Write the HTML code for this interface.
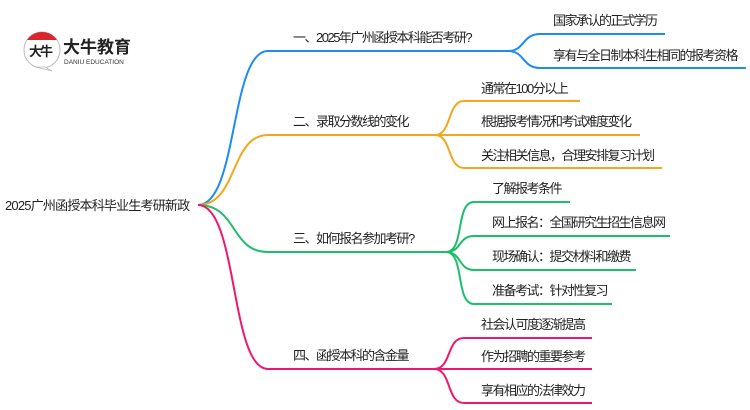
<!DOCTYPE html>
<html><head><meta charset="utf-8"><style>
html,body{margin:0;padding:0;background:#fff;}
svg{display:block;}
text{font-family:"Liberation Sans","Noto Sans CJK SC",sans-serif;font-size:13px;fill:#222;letter-spacing:-1.5px;}
</style></head><body>
<svg width="750" height="410" viewBox="0 0 750 410" xmlns="http://www.w3.org/2000/svg">
<!-- logo -->
<circle cx="42" cy="50" r="18" fill="#fff" stroke="#bbb" stroke-width="1"/>
<path d="M27,40 A18,18 0 0 1 57,40 Z" fill="#d9262c"/>
<path d="M36,67 L45,67 L52,71 Z" fill="#fff" stroke="#bbb" stroke-width="0.8"/>
<text x="29" y="56" style="font-size:13px;font-weight:bold;fill:#222;letter-spacing:-2px">大牛</text>
<text x="63" y="53" style="font-size:17px;font-weight:bold;fill:#222;letter-spacing:0px">大牛教育</text>
<text x="64" y="64" style="font-size:6.5px;fill:#333;letter-spacing:0px">DANIU EDUCATION</text>

<g fill="none" stroke-width="2">
<path d="M198,205 C238,205 230,51 268,51 L508,51" stroke="#1e8cf0"/>
<path d="M508,51 C525,51 522,34 540,34 L665,34" stroke="#1e8cf0"/>
<path d="M508,51 C525,51 522,68 540,68 L746,68" stroke="#1e8cf0"/>
<path d="M198,205 C238,205 230,135 268,135 L435,135" stroke="#f2a81d"/>
<path d="M435,135 C452,135 447,101 464,101 L580,101" stroke="#f2a81d"/>
<path d="M435,135 L640,135" stroke="#f2a81d"/>
<path d="M435,135 C452,135 447,168 464,168 L662,168" stroke="#f2a81d"/>
<path d="M198,205 C238,205 230,252 268,252 L446,252" stroke="#1dbf6a"/>
<path d="M446,252 C465,252 455,202 474,202 L570,202" stroke="#1dbf6a"/>
<path d="M446,252 C462,252 458,236 474,236 L670,236" stroke="#1dbf6a"/>
<path d="M446,252 C462,252 458,270 474,270 L636,270" stroke="#1dbf6a"/>
<path d="M446,252 C465,252 455,304 474,304 L612,304" stroke="#1dbf6a"/>
<path d="M198,205 C238,205 230,369 268,369 L434,369" stroke="#f0186e"/>
<path d="M434,369 C452,369 446,338 464,338 L592,338" stroke="#f0186e"/>
<path d="M434,369 L592,369" stroke="#f0186e"/>
<path d="M434,369 C452,369 446,403 464,403 L592,403" stroke="#f0186e"/>
</g>

<text x="5" y="210" style="letter-spacing:-0.8px">2025广州函授本科毕业生考研新政</text>
<text x="293" y="42">一、2025年广州函授本科能否考研?</text>
<text x="553" y="25">国家承认的正式学历</text>
<text x="553" y="60">享有与全日制本科生相同的报考资格</text>
<text x="293" y="126">二、录取分数线的变化</text>
<text x="481" y="93">通常在100分以上</text>
<text x="481" y="126">根据报考情况和考试难度变化</text>
<text x="481" y="160">关注相关信息，合理安排复习计划</text>
<text x="293" y="243">三、如何报名参加考研?</text>
<text x="492" y="193">了解报考条件</text>
<text x="492" y="227">网上报名：全国研究生招生信息网</text>
<text x="492" y="261">现场确认：提交材料和缴费</text>
<text x="492" y="295">准备考试：针对性复习</text>
<text x="293" y="360">四、函授本科的含金量</text>
<text x="481" y="329">社会认可度逐渐提高</text>
<text x="481" y="361">作为招聘的重要参考</text>
<text x="481" y="395">享有相应的法律效力</text>
</svg>
</body></html>
